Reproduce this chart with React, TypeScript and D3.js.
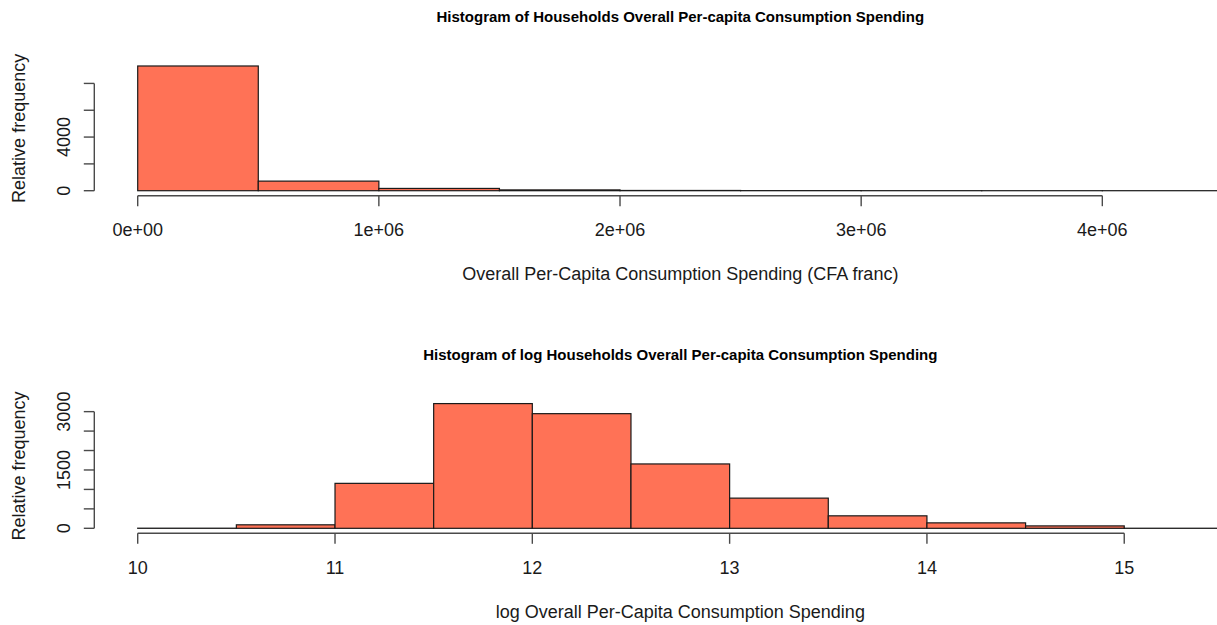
import React from "react";
import * as d3 from "d3";

// Overall per-capita consumption spending (CFA franc): bin edges and counts
const spendBreaks = [0, 5e5, 1e6, 1.5e6, 2e6, 2.5e6, 3e6, 3.5e6, 4e6, 4.5e6];
const spendCounts = [9300, 715, 170, 60, 18, 6, 3, 1, 1];
const spendXTicks = [0, 1e6, 2e6, 3e6, 4e6];
const spendXTickLabels = ["0e+00", "1e+06", "2e+06", "3e+06", "4e+06"];
const spendYTicks = [0, 2000, 4000, 6000, 8000];
const spendYTickLabels = ["0", "", "4000", "", ""];

// log of the same spending
const logBreaks = [10, 10.5, 11, 11.5, 12, 12.5, 13, 13.5, 14, 14.5, 15, 15.5];
const logCounts = [3, 90, 1156, 3207, 2948, 1655, 776, 321, 140, 62, 2];
const logXTicks = [10, 11, 12, 13, 14, 15];
const logXTickLabels = ["10", "11", "12", "13", "14", "15"];
const logYTicks = [0, 500, 1000, 1500, 2000, 2500, 3000];
const logYTickLabels = ["0", "", "", "1500", "", "", "3000"];

const W = 1217;
const H = 625;
const FONT = "'Liberation Sans', Arial, Helvetica, sans-serif";
const FILL = "#FF7256";

const PLOT_LEFT = 94.3;
const PLOT_RIGHT = 1266.3;
const PLOT_H = 134.7;

type PanelProps = {
  top: number;
  breaks: number[];
  counts: number[];
  xTicks: number[];
  xTickLabels: string[];
  yTicks: number[];
  yTickLabels: string[];
  title: string;
  xLabel: string;
};

function HistPanel(p: PanelProps) {
  const bottom = p.top + PLOT_H;
  const lo = p.breaks[0];
  const hi = p.breaks[p.breaks.length - 1];
  const padX = (hi - lo) * 0.04;
  const x = d3.scaleLinear().domain([lo - padX, hi + padX]).range([PLOT_LEFT, PLOT_RIGHT]);
  const maxC = d3.max(p.counts) as number;
  const y = d3.scaleLinear().domain([-0.04 * maxC, 1.04 * maxC]).range([bottom, p.top]);
  const cx = (PLOT_LEFT + PLOT_RIGHT) / 2;
  const cy = (p.top + bottom) / 2;
  const axisCol = "#4a4a4a";
  const tick = 10.5;

  const bins = p.counts.map((c, i) => ({ x0: p.breaks[i], x1: p.breaks[i + 1], c }));

  return (
    <g>
      <text
        x={cx}
        y={p.top - 38.7}
        textAnchor="middle"
        fontFamily={FONT}
        fontWeight="bold"
        fontSize={15}
        fill="#000"
      >
        {p.title}
      </text>
      {bins.map((b, i) => (
        <rect
          key={i}
          x={x(b.x0)}
          y={y(b.c)}
          width={x(b.x1) - x(b.x0)}
          height={y(0) - y(b.c)}
          fill={FILL}
          stroke="#1a1a1a"
          strokeWidth={1.2}
        />
      ))}
      {/* x axis */}
      <g stroke={axisCol} strokeWidth={1.4} fill="none">
        <line x1={x(p.xTicks[0])} x2={x(p.xTicks[p.xTicks.length - 1])} y1={bottom} y2={bottom} />
        {p.xTicks.map((t) => (
          <line key={t} x1={x(t)} x2={x(t)} y1={bottom} y2={bottom + tick} />
        ))}
      </g>
      {p.xTicks.map((t, i) => (
        <text
          key={t}
          x={x(t)}
          y={bottom + 40.7}
          textAnchor="middle"
          fontFamily={FONT}
          fontSize={18}
          fill="#1a1a1a"
        >
          {p.xTickLabels[i]}
        </text>
      ))}
      {/* y axis */}
      <g stroke={axisCol} strokeWidth={1.4} fill="none">
        <line
          x1={PLOT_LEFT}
          x2={PLOT_LEFT}
          y1={y(p.yTicks[0])}
          y2={y(p.yTicks[p.yTicks.length - 1])}
        />
        {p.yTicks.map((t) => (
          <line key={t} x1={PLOT_LEFT - tick} x2={PLOT_LEFT} y1={y(t)} y2={y(t)} />
        ))}
      </g>
      {p.yTicks.map((t, i) =>
        p.yTickLabels[i] ? (
          <text
            key={t}
            transform={`translate(70,${y(t)}) rotate(-90)`}
            textAnchor="middle"
            fontFamily={FONT}
            fontSize={18}
            fill="#1a1a1a"
          >
            {p.yTickLabels[i]}
          </text>
        ) : null
      )}
      <text
        transform={`translate(25,${cy}) rotate(-90)`}
        textAnchor="middle"
        fontFamily={FONT}
        fontSize={18}
        fill="#1a1a1a"
      >
        Relative frequency
      </text>
      <text
        x={cx}
        y={bottom + 84.3}
        textAnchor="middle"
        fontFamily={FONT}
        fontSize={18}
        fill="#1a1a1a"
      >
        {p.xLabel}
      </text>
    </g>
  );
}

export default function App() {
  return (
    <svg
      width={W}
      height={H}
      viewBox={`0 0 ${W} ${H}`}
      style={{ position: "absolute", left: 0, top: 0, background: "#fff" }}
    >
      <rect width={W} height={H} fill="#fff" />
      <HistPanel
        top={61}
        breaks={spendBreaks}
        counts={spendCounts}
        xTicks={spendXTicks}
        xTickLabels={spendXTickLabels}
        yTicks={spendYTicks}
        yTickLabels={spendYTickLabels}
        title="Histogram of Households Overall Per-capita Consumption Spending"
        xLabel="Overall Per-Capita Consumption Spending (CFA franc)"
      />
      <HistPanel
        top={398.6}
        breaks={logBreaks}
        counts={logCounts}
        xTicks={logXTicks}
        xTickLabels={logXTickLabels}
        yTicks={logYTicks}
        yTickLabels={logYTickLabels}
        title="Histogram of log Households Overall Per-capita Consumption Spending"
        xLabel="log Overall Per-Capita Consumption Spending"
      />
    </svg>
  );
}
